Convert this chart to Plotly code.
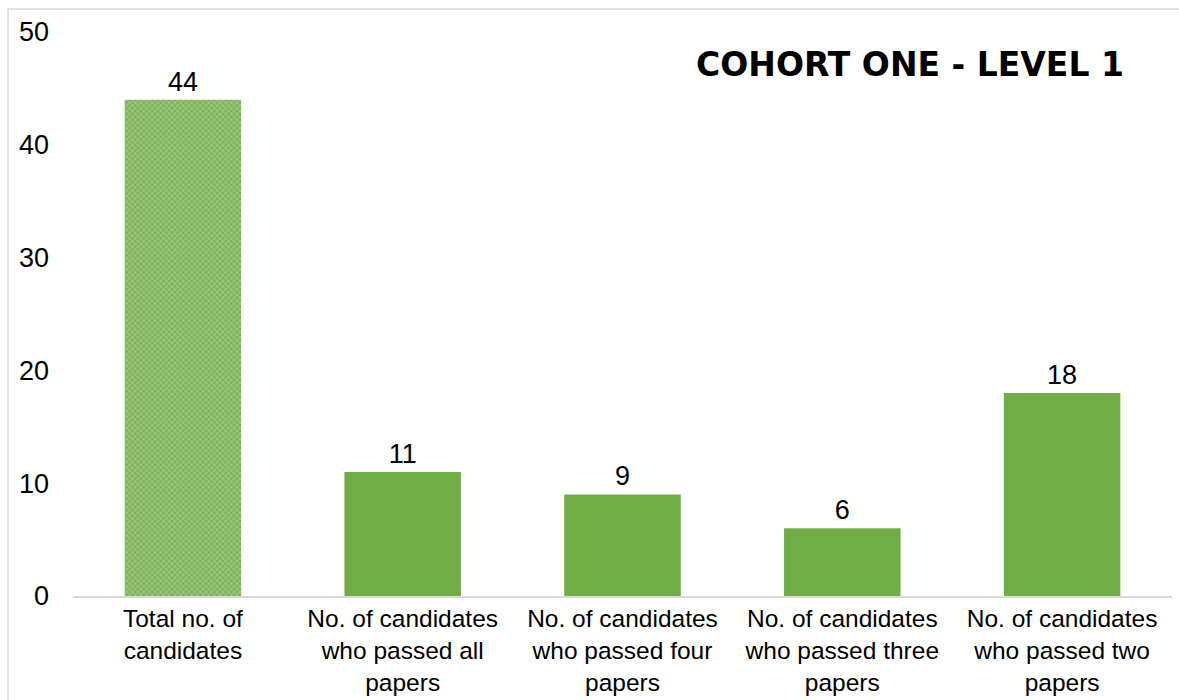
import plotly.graph_objects as go

categories = [
    "Total no. of<br>candidates",
    "No. of candidates<br>who passed all<br>papers",
    "No. of candidates<br>who passed four<br>papers",
    "No. of candidates<br>who passed three<br>papers",
    "No. of candidates<br>who passed two<br>papers",
]
values = [44, 11, 9, 6, 18]
title_text = "COHORT ONE - LEVEL 1"

FONT = "Liberation Sans, Arial, sans-serif"

fig = go.Figure()
fig.add_trace(go.Bar(
    x=categories,
    y=values,
    text=[str(v) for v in values],
    textposition="outside",
    textfont=dict(family=FONT, size=27, color="#000000"),
    cliponaxis=False,
    marker=dict(
        color=["#93c76f", "#70ad47", "#70ad47", "#70ad47", "#70ad47"],
        line=dict(width=0),
        pattern=dict(
            shape=["x", "", "", "", ""],
            fgcolor="#acd88f",
            size=4,
            solidity=0.25,
        ),
    ),
    width=0.53,
))

fig.update_layout(
    width=1179,
    height=700,
    margin=dict(l=73, r=7, t=32, b=104, autoexpand=False),
    paper_bgcolor="white",
    plot_bgcolor="white",
    showlegend=False,
    font=dict(family=FONT, size=25, color="#000000"),
    xaxis=dict(
        automargin=False,
        showline=True,
        linecolor="#d9d9d9",
        linewidth=1.5,
        showgrid=False,
        ticks="",
        ticklabelstandoff=0,
        tickfont=dict(family=FONT, size=24.5, color="#000000"),
        zeroline=False,
    ),
    yaxis=dict(
        automargin=False,
        range=[0, 50],
        dtick=10,
        tick0=0,
        showgrid=False,
        zeroline=False,
        showline=False,
        ticks="",
        ticklabelstandoff=23,
        tickfont=dict(family=FONT, size=27, color="#000000"),
    ),
    annotations=[
        dict(
            text="<b>" + title_text + "</b>",
            xref="paper", yref="paper",
            x=0.958, y=0.942,
            xanchor="right", yanchor="middle",
            showarrow=False,
            font=dict(family="DejaVu Sans, sans-serif", size=33, color="#000000"),
        )
    ],
    shapes=[
        dict(
            type="rect", xref="paper", yref="paper",
            x0=-0.0591, x1=1.02, y0=-0.3, y1=1.0408,
            line=dict(color="#d9d9d9", width=1.5),
            fillcolor="rgba(0,0,0,0)",
            layer="below",
        )
    ],
)

fig.write_html("out.html")
